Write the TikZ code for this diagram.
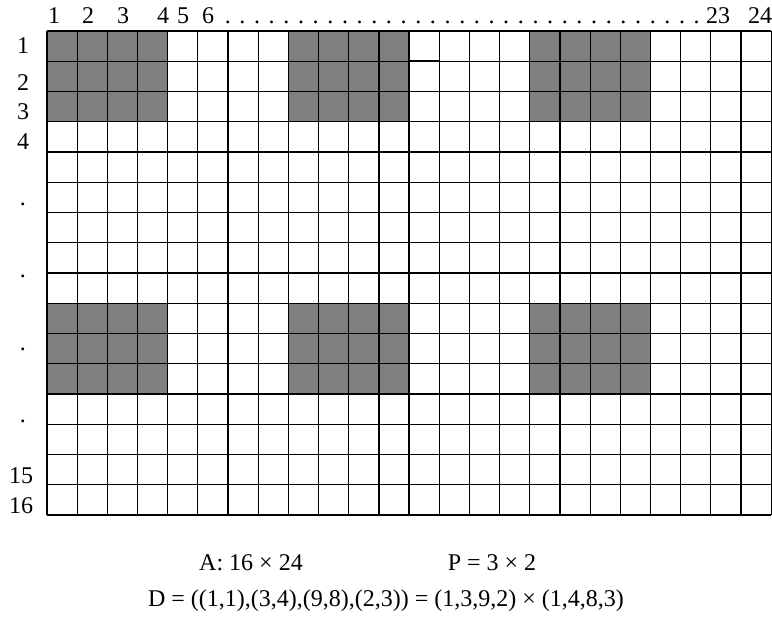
\documentclass[tikz,border=0pt]{standalone}
\usepackage{fontspec}
\setmainfont{Liberation Serif}
\usetikzlibrary{positioning}

\begin{document}
\begin{tikzpicture}[
  x=0.75pt, y=-0.75pt,
  lbl/.style={font=\fontsize{18}{20}\selectfont, inner sep=0pt},
  cell/.style={draw, line width=0.9pt},
  block/.style={fill=black!50},
  corner/.style={line width=1.8pt}
]
\useasboundingbox (0,0) rectangle (772,618);

% Matrix A: 16 x 24 cells, shaded 3 x 4 blocks
\begin{scope}[shift={(47,31)}, x=22.63pt, y=-22.69pt]
  \foreach \c in {0,8,16}
    \foreach \r in {0,9}
      \fill[block] (\c,\r) rectangle ++(4,3);
  \foreach \i in {0,...,24}
    \draw[cell] (\i,0) -- (\i,16);
  \foreach \j in {0,...,16}
    \draw[cell] (0,\j) -- (24,\j);
  \draw[corner] (13,1) -- (12,1) -- (12,2);
\end{scope}

% Column numbers
\node[lbl, anchor=base] (c1) at (54,23) {1};
\node[lbl, anchor=base] (c2) at (88,23) {2};
\node[lbl, anchor=base] (c3) at (123,23) {3};
\node[lbl, anchor=base] (c4) at (163,23) {4};
\node[lbl, anchor=base] (c5) at (183,23) {5};
\node[lbl, anchor=base] (c6) at (208,23) {6};
\node[lbl, anchor=base west] (cdots) at (220,23)
  {\hbox to 363pt{\xleaders\hbox to 10.68pt{\hss.\hss}\hfill}};
\node[lbl, anchor=base] (c23) at (718,23) {23};
\node[lbl, anchor=base] (c24) at (760,23) {24};

% Row numbers
\node[lbl, anchor=base] (r1) at (23,53) {1};
\node[lbl, anchor=base] (r2) at (23,90) {2};
\node[lbl, anchor=base] (r3) at (23,119) {3};
\node[lbl, anchor=base] (r4) at (23,149) {4};
\node[lbl] (rd1) at (23,204) {.};
\node[lbl] (rd2) at (23,276) {.};
\node[lbl] (rd3) at (23,349) {.};
\node[lbl] (rd4) at (23,421) {.};
\node[lbl, anchor=base] (r15) at (21,483) {15};
\node[lbl, anchor=base] (r16) at (21,513) {16};

% Sizes and distribution
\node[lbl, anchor=base] (dimA) at (251,570) {A: 16 × 24};
\node[lbl, anchor=base] (dimP) at (492,570) {P = 3 × 2};
\node[lbl, anchor=base] (distD) at (386,606)
  {D = ((1,1),(3,4),(9,8),(2,3)) = (1,3,9,2) × (1,4,8,3)};

\end{tikzpicture}
\end{document}
